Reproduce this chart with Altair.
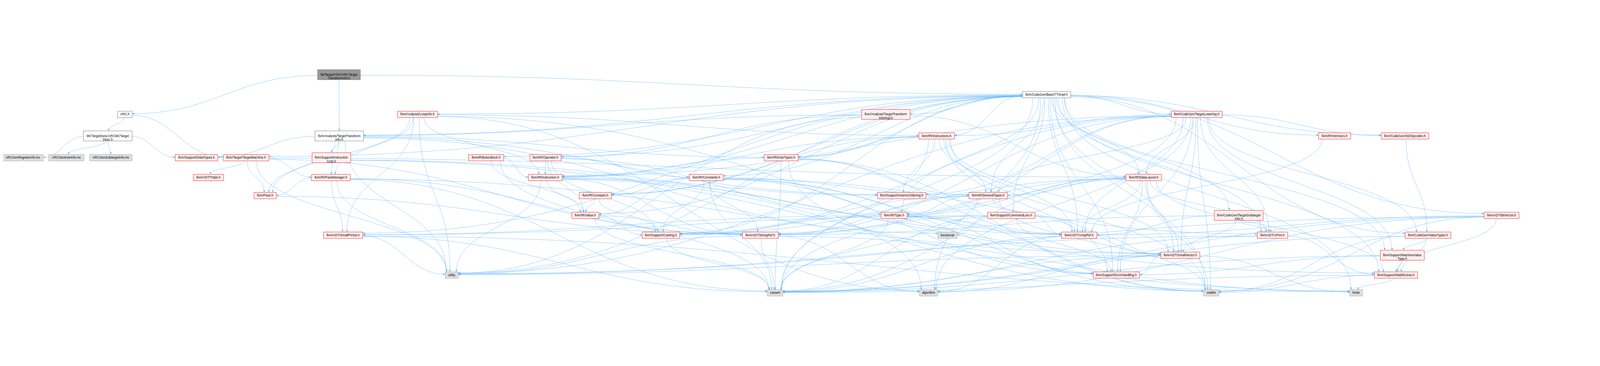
import math
import altair as alt
import pandas as pd

# ---------------- data: nodes of the include graph ----------------
node_ids = [
    "title", "BTTI", "ARC", "LoopInfo", "TTIImpl", "TLower", "MCTD", "TTI",
    "Instructions", "Intrinsics", "ISD", "GenReg", "GenInstr", "GenSub",
    "DataTypes", "TM", "InstrCost", "BasicBlock", "Operator", "InstrTypes",
    "Triple", "PassManager", "Instruction", "Constants", "DataLayout", "Pass",
    "Constant", "AtomicOrdering", "DerivedTypes", "Value", "Type",
    "CommandLine", "TSI", "BitVector", "SmallPtrSet", "Casting", "StringRef",
    "functional", "ArrayRef", "APInt", "ValueTypes", "SmallVector", "MVT",
    "utility", "ErrorHandling", "MathExtras", "cassert", "algorithm",
    "cstdint", "limits",
]
node_labels = [
    "lib/Target/ARC/ARCTarget\nTransformInfo.h", "llvm/CodeGen/BasicTTIImpl.h",
    "ARC.h", "llvm/Analysis/LoopInfo.h", "llvm/Analysis/TargetTransform\nInfoImpl.h",
    "llvm/CodeGen/TargetLowering.h", "MCTargetDesc/ARCMCTarget\nDesc.h",
    "llvm/Analysis/TargetTransform\nInfo.h", "llvm/IR/Instructions.h",
    "llvm/IR/Intrinsics.h", "llvm/CodeGen/ISDOpcodes.h", "ARCGenRegisterInfo.inc",
    "ARCGenInstrInfo.inc", "ARCGenSubtargetInfo.inc", "llvm/Support/DataTypes.h",
    "llvm/Target/TargetMachine.h", "llvm/Support/Instruction\nCost.h",
    "llvm/IR/BasicBlock.h", "llvm/IR/Operator.h", "llvm/IR/InstrTypes.h",
    "llvm/ADT/Triple.h", "llvm/IR/PassManager.h", "llvm/IR/Instruction.h",
    "llvm/IR/Constants.h", "llvm/IR/DataLayout.h", "llvm/Pass.h",
    "llvm/IR/Constant.h", "llvm/Support/AtomicOrdering.h", "llvm/IR/DerivedTypes.h",
    "llvm/IR/Value.h", "llvm/IR/Type.h", "llvm/Support/CommandLine.h",
    "llvm/CodeGen/TargetSubtarget\nInfo.h", "llvm/ADT/BitVector.h",
    "llvm/ADT/SmallPtrSet.h", "llvm/Support/Casting.h", "llvm/ADT/StringRef.h",
    "functional", "llvm/ADT/ArrayRef.h", "llvm/ADT/APInt.h",
    "llvm/CodeGen/ValueTypes.h", "llvm/ADT/SmallVector.h",
    "llvm/Support/MachineValue\nType.h", "utility", "llvm/Support/ErrorHandling.h",
    "llvm/Support/MathExtras.h", "cassert", "algorithm", "cstdint", "limits",
]
node_kinds = [
    "root", "plain", "plain", "trunc", "trunc", "trunc", "plain", "plain",
    "trunc", "trunc", "trunc", "sys", "sys", "sys",
    "trunc", "trunc", "trunc", "trunc", "trunc", "trunc",
    "trunc", "trunc", "trunc", "trunc", "trunc", "trunc",
    "trunc", "trunc", "trunc", "trunc", "trunc",
    "trunc", "trunc", "trunc", "trunc", "trunc", "trunc",
    "sys", "trunc", "trunc", "trunc", "trunc", "trunc",
    "sys", "trunc", "trunc", "sys", "sys", "sys", "sys",
]
# graph layout: rank (row) and horizontal centre / box width
node_rank = [0, 1, 2, 2, 2, 2, 3, 3, 3, 3, 3, 4, 4, 4, 4, 4, 4, 4, 4, 4,
             5, 5, 5, 5, 5, 6, 6, 6, 6, 7, 7, 7, 7, 7, 8, 8, 8, 8, 8, 8, 8,
             9, 9, 10, 10, 10, 11, 11, 11, 11]
node_cx = [1382, 4277, 506, 1703, 3619, 4891, 436, 1383, 3827, 5455, 5743,
           89, 267, 449, 799, 1002, 1351, 1984, 2227, 3191, 848, 1349, 2226,
           2885, 4674, 1080, 2431, 3684, 4038, 2390, 3653, 4132, 5063, 6138,
           1399, 2699, 3106, 3871, 4410, 5201, 5837, 4824, 5732, 1843, 4562,
           5706, 3166, 3794, 4950, 5543]
node_w = [175, 197, 60, 164, 198, 208, 199, 198, 146, 132, 194, 166, 144, 173,
          174, 186, 158, 144, 128, 139, 124, 158, 139, 139, 146, 91, 132, 198,
          158, 111, 107, 194, 200, 143, 161, 154, 147, 78, 145, 125, 187, 160,
          180, 53, 189, 177, 63, 75, 61, 52]
rank_y = [25.5, 107, 188, 276, 365, 446, 520, 601, 682, 764, 845, 918]

# include edges (source -> targets)
edges = {
    "title": ["ARC", "TTI", "BTTI"],
    "ARC": ["MCTD", "TM"],
    "MCTD": ["GenReg", "GenInstr", "GenSub", "DataTypes"],
    "TM": ["Triple", "Pass", "StringRef", "DataLayout", "PassManager", "utility"],
    "BTTI": ["APInt", "ArrayRef", "BitVector", "SmallPtrSet", "SmallVector",
             "LoopInfo", "TTI", "TTIImpl", "ISD", "TLower", "TSI", "ValueTypes",
             "BasicBlock", "Constant", "Constants", "DataLayout", "DerivedTypes",
             "InstrTypes", "Instruction", "Instructions", "Intrinsics",
             "Operator", "Type", "Value", "Casting", "CommandLine",
             "ErrorHandling", "MVT", "MathExtras", "TM", "algorithm",
             "cassert", "cstdint", "limits", "utility"],
    "TTI": ["DataTypes", "InstrTypes", "PassManager", "Pass", "AtomicOrdering",
            "InstrCost", "functional", "utility"],
    "LoopInfo": ["SmallPtrSet", "SmallVector", "Instruction", "Instructions",
                 "PassManager", "Pass", "algorithm", "utility"],
    "TTIImpl": ["TTI", "DataLayout", "Operator", "utility"],
    "TLower": ["APInt", "ArrayRef", "SmallVector", "StringRef", "ISD",
               "ValueTypes", "MVT", "DataLayout", "DerivedTypes", "Instruction",
               "Instructions", "Type", "AtomicOrdering", "Casting",
               "ErrorHandling", "algorithm", "cassert", "cstdint", "utility"],
    "Instructions": ["ArrayRef", "SmallVector", "Constant", "DerivedTypes",
                     "InstrTypes", "Instruction", "AtomicOrdering",
                     "ErrorHandling", "cassert", "cstdint"],
    "Intrinsics": ["ArrayRef"],
    "ISD": ["ValueTypes"],
    "InstrCost": ["MathExtras", "limits"],
    "BasicBlock": ["Instruction", "Value", "cassert"],
    "Operator": ["Constants", "Instruction", "Type", "Value", "Casting"],
    "InstrTypes": ["ArrayRef", "DerivedTypes", "Instruction", "algorithm",
                   "cassert", "cstdint"],
    "PassManager": ["Pass", "SmallPtrSet", "SmallVector", "StringRef",
                    "cassert", "utility"],
    "Instruction": ["ArrayRef", "StringRef", "Value", "AtomicOrdering",
                    "cstdint", "utility"],
    "Constants": ["Constant", "APInt", "ArrayRef", "StringRef", "DerivedTypes",
                  "Value", "Casting", "ErrorHandling", "cassert", "cstdint"],
    "DataLayout": ["APInt", "ArrayRef", "SmallVector", "StringRef",
                   "DerivedTypes", "Type", "Casting", "ErrorHandling",
                   "MathExtras", "cassert", "cstdint"],
    "Pass": ["StringRef"],
    "Constant": ["Value", "Casting"],
    "DerivedTypes": ["Type", "ArrayRef", "StringRef", "Casting", "cassert",
                     "cstdint"],
    "Value": ["StringRef", "Casting", "cassert"],
    "Type": ["ArrayRef", "SmallPtrSet", "Casting", "ErrorHandling", "cassert",
             "cstdint"],
    "CommandLine": ["ArrayRef", "SmallPtrSet", "SmallVector", "StringRef",
                    "ErrorHandling", "functional", "cassert"],
    "TSI": ["APInt", "ArrayRef", "SmallVector", "StringRef"],
    "BitVector": ["ArrayRef", "MathExtras", "algorithm", "cassert", "cstdint",
                  "utility"],
    "SmallPtrSet": ["cassert", "limits", "utility"],
    "Casting": ["cassert"],
    "StringRef": ["algorithm", "cassert", "limits", "utility"],
    "ArrayRef": ["SmallVector", "algorithm", "cassert"],
    "APInt": ["MathExtras", "cassert", "utility"],
    "ValueTypes": ["MVT", "MathExtras", "cassert", "cstdint"],
    "SmallVector": ["ErrorHandling", "algorithm", "cassert", "limits", "utility"],
    "MVT": ["ErrorHandling", "MathExtras", "cassert"],
    "MathExtras": ["cassert", "cstdint", "limits"],
}

kind_domain = ["root", "plain", "trunc", "sys"]
kind_fill = ["#999999", "#ffffff", "#fff0f0", "#e0e0e0"]
kind_stroke = ["#666666", "#666666", "#ff0000", "#999999"]
EDGE = "#63b8ff"

# ---------------- build tables ----------------
rows = []
geo = {}
for i, nid in enumerate(node_ids):
    lines = node_labels[i].count("\n") + 1
    h = 11 + 15 * lines
    cy = rank_y[node_rank[i]]
    cx = node_cx[i]
    w = node_w[i]
    geo[nid] = (cx, cy, w, h)
    rows.append(dict(id=nid, label=node_labels[i], kind=node_kinds[i],
                     cx=cx, cy=cy, x1=cx - w / 2, x2=cx + w / 2,
                     y1=cy - h / 2, y2=cy + h / 2))
nodes_df = pd.DataFrame(rows)


def clip(v, lo, hi):
    return max(lo, min(hi, v))


line_rows = []
arrow_rows = []
eid = 0
for src, tgts in edges.items():
    sx, sy, sw, sh = geo[src]
    for tgt in tgts:
        tx, ty, tw, th = geo[tgt]
        dx = tx - sx
        dyc = ty - sy
        if abs(dx) > 2.6 * abs(dyc):
            sgn = 1 if dx > 0 else -1
            p0 = (sx + sgn * sw / 2, sy + clip(dyc * 0.02, -sh * 0.3, sh * 0.3))
            p3 = (tx - sgn * tw / 2, ty + clip(-dyc * 0.02, -th * 0.3, th * 0.3))
            L = abs(p3[0] - p0[0]) * 0.45
            p1 = (p0[0] + sgn * L, p0[1])
            p2 = (p3[0] - sgn * L, p3[1])
        else:
            p0 = (sx + clip(dx * 0.05, -sw * 0.4, sw * 0.4), sy + sh / 2)
            p3 = (tx + clip(-dx * 0.05, -tw * 0.4, tw * 0.4), ty - th / 2)
            L = abs(p3[1] - p0[1]) * 0.5
            p1 = (p0[0], p0[1] + L)
            p2 = (p3[0], p3[1] - L)
        n = 28
        for k in range(n + 1):
            t = k / n
            a = (1 - t) ** 3
            b = 3 * (1 - t) ** 2 * t
            c = 3 * (1 - t) * t ** 2
            d = t ** 3
            line_rows.append(dict(
                edge=eid, ord=k,
                x=a * p0[0] + b * p1[0] + c * p2[0] + d * p3[0],
                y=a * p0[1] + b * p1[1] + c * p2[1] + d * p3[1]))
        ux, uy = p3[0] - p2[0], p3[1] - p2[1]
        nrm = math.hypot(ux, uy) or 1.0
        ux, uy = ux / nrm, uy / nrm
        ang = math.degrees(math.atan2(ux, -uy)) % 360
        arrow_rows.append(dict(edge=eid, x=p3[0] - ux * 5, y=p3[1] - uy * 5,
                               ang=ang))
        eid += 1

lines_df = pd.DataFrame(line_rows)
arrows_df = pd.DataFrame(arrow_rows)

# ---------------- chart ----------------
xs = alt.Scale(domain=[8, 6528], nice=False, zero=False)
ys = alt.Scale(domain=[8, 929], nice=False, zero=False, reverse=True)

edge_lines = alt.Chart(lines_df).mark_line(
    color=EDGE, strokeWidth=1.1, interpolate="linear"
).encode(
    x=alt.X("x:Q", scale=xs, axis=None),
    y=alt.Y("y:Q", scale=ys, axis=None),
    detail="edge:N",
    order="ord:Q",
)

arrow_heads = alt.Chart(arrows_df).mark_point(
    shape="M0,-1L-0.75,0.8L0.75,0.8Z", filled=True, size=100,
    color=EDGE, opacity=1, strokeWidth=0
).encode(
    x=alt.X("x:Q", scale=xs, axis=None),
    y=alt.Y("y:Q", scale=ys, axis=None),
    angle=alt.Angle("ang:Q", scale=None),
)

boxes = alt.Chart(nodes_df).mark_rect(strokeWidth=1.3).encode(
    x=alt.X("x1:Q", scale=xs, axis=None),
    x2="x2:Q",
    y=alt.Y("y1:Q", scale=ys, axis=None),
    y2="y2:Q",
    fill=alt.Fill("kind:N", scale=alt.Scale(domain=kind_domain, range=kind_fill),
                  legend=None),
    stroke=alt.Stroke("kind:N",
                      scale=alt.Scale(domain=kind_domain, range=kind_stroke),
                      legend=None),
)

labels = alt.Chart(nodes_df).mark_text(
    font="Liberation Sans", fontSize=13, lineBreak="\n", lineHeight=15,
    color="#000000", align="center", baseline="middle"
).encode(
    x=alt.X("cx:Q", scale=xs, axis=None),
    y=alt.Y("cy:Q", scale=ys, axis=None),
    text="label:N",
)

chart = alt.layer(edge_lines, arrow_heads, boxes, labels).properties(
    width=6520, height=921, padding=0,
    autosize=alt.AutoSizeParams(type="none"),
    background="#ffffff",
).configure_view(stroke=None)

chart.save("out.html", embed_options={"renderer": "svg", "actions": False})
